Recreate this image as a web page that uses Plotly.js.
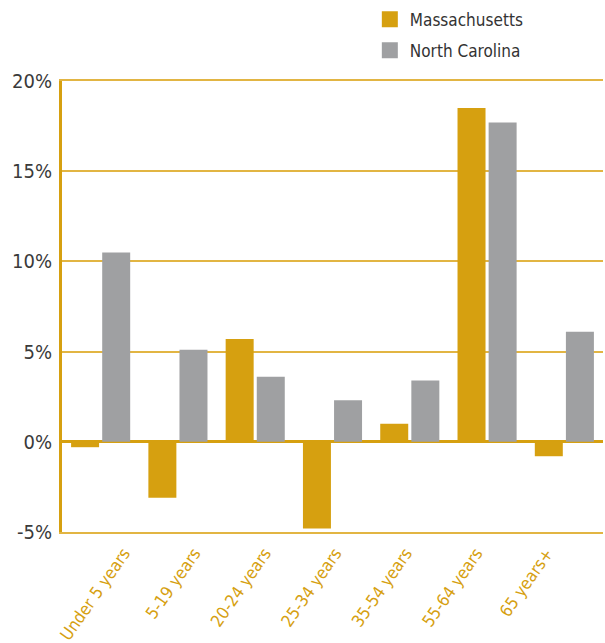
<!DOCTYPE html>
<html>
<head>
<meta charset="utf-8">
<script src="https://cdn.plot.ly/plotly-3.0.1.min.js"></script>
<style>
  html, body { margin: 0; padding: 0; background: #ffffff; }
  #chart { width: 605px; height: 643px; }
</style>
</head>
<body>
<div id="chart"></div>
<script>
const categories = ["Under 5 years", "5-19 years", "20-24 years", "25-34 years", "35-54 years", "55-64 years", "65 years+"];
const massachusetts = [-0.3, -3.1, 5.7, -4.8, 1.0, 18.5, -0.8];
const northCarolina = [10.5, 5.1, 3.6, 2.3, 3.4, 17.7, 6.1];
const yTickValues = [-5, 0, 5, 10, 15, 20];
const yTickLabels = ["-5%", "0%", "5%", "10%", "15%", "20%"];
const seriesNames = ["Massachusetts", "North Carolina"];

const GOLD = "#D6A010";
const GRID = "#E2B543";
const GRAY = "#9FA0A2";
const FONT = "'Liberation Sans Narrow', 'Arial Narrow', 'DejaVu Sans Condensed', sans-serif";
const catIndex = categories.map((_, i) => i);

const traces = [
  { type: "bar", name: seriesNames[0], x: categories, y: massachusetts,
    marker: { color: GOLD }, showlegend: false, hoverinfo: "skip" },
  { type: "bar", name: seriesNames[1], x: categories, y: northCarolina,
    marker: { color: GRAY }, showlegend: false, hoverinfo: "skip" },
  // legend-only entries (larger square swatches)
  { type: "scatter", mode: "markers", name: seriesNames[0], x: [null], y: [null],
    marker: { symbol: "square", size: 20, color: GOLD }, legendgroup: "a", hoverinfo: "skip" },
  { type: "scatter", mode: "markers", name: seriesNames[1], x: [null], y: [null],
    marker: { symbol: "square", size: 20, color: GRAY }, legendgroup: "b", hoverinfo: "skip" },
  // carrier for the category label axis
  { type: "scatter", mode: "markers", x: catIndex, y: northCarolina, xaxis: "x2",
    marker: { opacity: 0, size: 1 }, showlegend: false, hoverinfo: "skip" }
];

const layout = {
  width: 605, height: 643,
  margin: { l: 62, r: 2, t: 79, b: 111 },
  paper_bgcolor: "#ffffff", plot_bgcolor: "#ffffff",
  barmode: "group", bargap: 0.195, bargroupgap: 0.1,
  showlegend: true,
  legend: {
    x: 0.569, xanchor: "left", y: 1.176, yanchor: "top",
    orientation: "v", traceorder: "grouped", tracegroupgap: 6,
    itemsizing: "trace",
    font: { family: FONT, size: 17, color: "#333333" },
    bgcolor: "rgba(0,0,0,0)"
  },
  font: { family: FONT },
  xaxis: {
    type: "category", range: [-0.5, 6.5],
    showgrid: false, zeroline: false, showticklabels: false,
    showline: true, mirror: true, linecolor: GRID, linewidth: 2,
    ticks: ""
  },
  xaxis2: {
    overlaying: "x", anchor: "y", side: "bottom",
    range: [-0.879, 6.795], tickvals: catIndex, ticktext: categories,
    showgrid: false, zeroline: false, showline: false,
    ticks: "", tickangle: -55, ticklabelstandoff: 7,
    tickfont: { family: FONT, size: 17, color: GOLD }
  },
  yaxis: {
    range: [-5, 20], tickvals: yTickValues, ticktext: yTickLabels,
    showgrid: true, gridcolor: GRID, gridwidth: 2,
    zeroline: true, zerolinecolor: GOLD, zerolinewidth: 3,
    showline: true, linecolor: GOLD, linewidth: 3,
    ticks: "", ticklabelstandoff: 3,
    tickfont: { family: FONT, size: 20, color: "#3a3a3a" }
  }
};

Plotly.newPlot("chart", traces, layout, { displayModeBar: false, staticPlot: true });
</script>
</body>
</html>
